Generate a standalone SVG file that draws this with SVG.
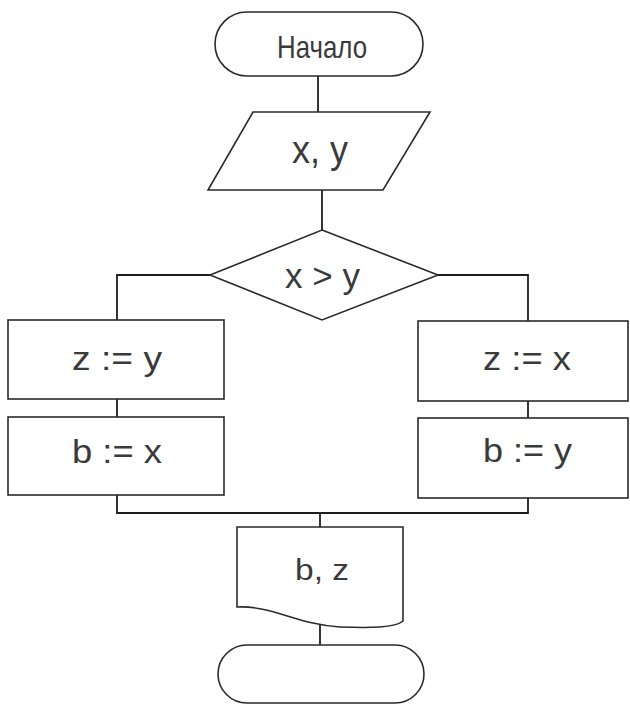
<svg xmlns="http://www.w3.org/2000/svg" width="630" height="706" viewBox="0 0 630 706">
<style>
.s{fill:#fff;stroke:#2a2a2a;stroke-width:1.6}
.c{fill:none;stroke:#1e1e1e;stroke-width:1.8}
.t{font-family:"Liberation Sans",Arial,sans-serif;fill:#3a3a3a;}
</style>
<rect width="630" height="706" fill="#fff"/>
<g id="connectors">
<path class="c" d="M318,76 V112"/>
<path class="c" d="M322,190 V230"/>
<path class="c" d="M210,275 H117 V320"/>
<path class="c" d="M438,275 H528 V321"/>
<path class="c" d="M117,399 V417"/>
<path class="c" d="M528,401 V418"/>
<path class="c" d="M117,495 V513 H528 V498"/>
<path class="c" d="M320,513 V527"/>
<path class="c" d="M320,623 V645"/>
</g>
<g id="start">
<rect class="s" x="215" y="12" width="208" height="64" rx="32"/>
<text class="t" x="277" y="58" font-size="32" textLength="90" lengthAdjust="spacingAndGlyphs">Начало</text>
</g>
<g id="input">
<polygon class="s" points="253,112 430,112 383,190 208,190"/>
<text class="t" x="292" y="163" font-size="38" textLength="56" lengthAdjust="spacingAndGlyphs">x, y</text>
</g>
<g id="decision">
<polygon class="s" points="322,230 438,275 322,320 210,275"/>
<text class="t" x="285" y="288" font-size="35" textLength="75" lengthAdjust="spacingAndGlyphs">x &gt; y</text>
</g>
<g id="left1">
<rect class="s" x="8" y="320" width="216" height="79"/>
<text class="t" x="72" y="370" font-size="34" textLength="90" lengthAdjust="spacingAndGlyphs">z := y</text>
</g>
<g id="left2">
<rect class="s" x="8" y="417" width="216" height="78"/>
<text class="t" x="72" y="463" font-size="34" textLength="90" lengthAdjust="spacingAndGlyphs">b := x</text>
</g>
<g id="right1">
<rect class="s" x="418" y="321" width="210" height="80"/>
<text class="t" x="483" y="370" font-size="34" textLength="88" lengthAdjust="spacingAndGlyphs">z := x</text>
</g>
<g id="right2">
<rect class="s" x="418" y="418" width="210" height="80"/>
<text class="t" x="483" y="462" font-size="34" textLength="89" lengthAdjust="spacingAndGlyphs">b := y</text>
</g>
<g id="output">
<path class="s" d="M237,527 H403 V621 C395,628 370,628 340,627 C300,625 270,605 237,607 Z"/>
<text class="t" x="295" y="580" font-size="30" textLength="54" lengthAdjust="spacingAndGlyphs">b, z</text>
</g>
<g id="end">
<rect class="s" x="218" y="645" width="206" height="58" rx="29"/>
</g>
</svg>
